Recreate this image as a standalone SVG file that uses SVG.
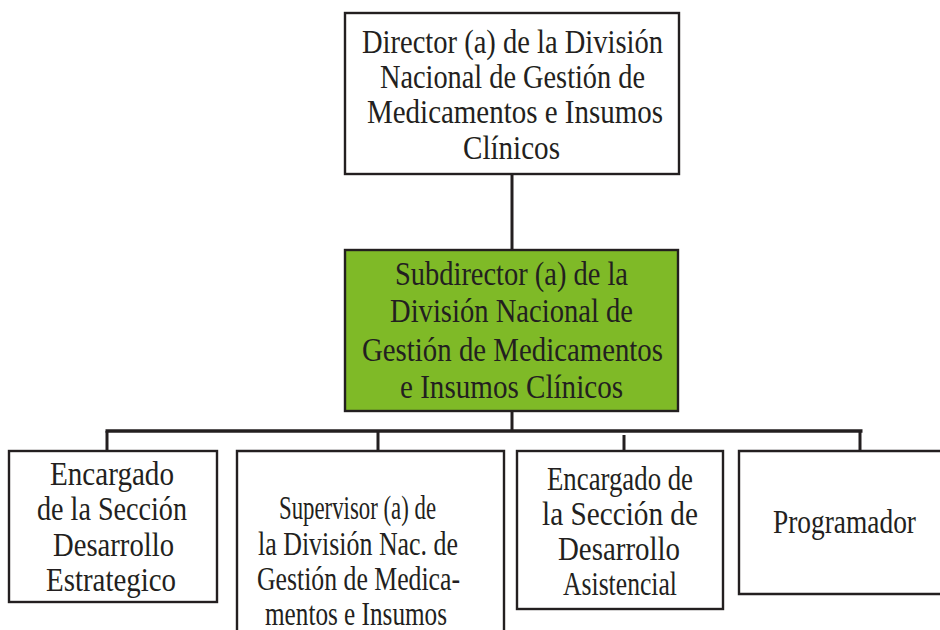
<svg xmlns="http://www.w3.org/2000/svg" width="940" height="630" viewBox="0 0 940 630">
<style>
.box{fill:#ffffff;stroke:#231f20;stroke-width:2.4}
.green{fill:#7fba27;stroke:#231f20;stroke-width:2.4}
.conn{stroke:#231f20;stroke-width:3;fill:none}
.bus{stroke:#231f20;stroke-width:3.6;fill:none}
text{font-family:"Liberation Serif","DejaVu Serif",serif;font-size:33px;fill:#231f20}
</style>
<rect width="940" height="630" fill="#ffffff"/>
<g id="connectors">
<line class="conn" x1="512" y1="174" x2="512" y2="250"/>
<line class="conn" x1="512" y1="411" x2="512" y2="431"/>
<line class="bus" x1="105.5" y1="431" x2="862.5" y2="431"/>
<line class="conn" x1="107" y1="431" x2="107" y2="451"/>
<line class="conn" x1="378" y1="431" x2="378" y2="451"/>
<line class="conn" x1="624" y1="435" x2="624" y2="455"/>
<line class="conn" x1="860" y1="431" x2="860" y2="451"/>
</g>
<g id="director">
<rect class="box" x="345" y="13" width="334" height="161"/>
<text x="362" y="53" textLength="301" lengthAdjust="spacingAndGlyphs">Director (a) de la  División</text>
<text x="380" y="88" textLength="265" lengthAdjust="spacingAndGlyphs">Nacional de Gestión de</text>
<text x="367" y="123" textLength="296" lengthAdjust="spacingAndGlyphs">Medicamentos e Insumos</text>
<text x="463" y="159" textLength="97" lengthAdjust="spacingAndGlyphs">Clínicos</text>
</g>
<g id="subdirector">
<rect class="green" x="345" y="250" width="333" height="161"/>
<text x="395" y="285" textLength="233" lengthAdjust="spacingAndGlyphs">Subdirector (a) de la</text>
<text x="390" y="322" textLength="243" lengthAdjust="spacingAndGlyphs">División Nacional de</text>
<text x="362" y="361" textLength="301" lengthAdjust="spacingAndGlyphs">Gestión de Medicamentos</text>
<text x="400" y="398" textLength="223" lengthAdjust="spacingAndGlyphs">e Insumos Clínicos</text>
</g>
<g id="estrategico">
<rect class="box" x="9" y="451" width="208" height="151"/>
<text x="50" y="485" textLength="124" lengthAdjust="spacingAndGlyphs">Encargado</text>
<text x="37" y="520" textLength="150" lengthAdjust="spacingAndGlyphs">de la Sección</text>
<text x="53" y="556" textLength="121" lengthAdjust="spacingAndGlyphs">Desarrollo</text>
<text x="46" y="591" textLength="130" lengthAdjust="spacingAndGlyphs">Estrategico</text>
</g>
<g id="supervisor">
<path class="box" d="M237,640 V451 H504 V640"/>
<text x="279" y="519" textLength="157" lengthAdjust="spacingAndGlyphs">Supervisor (a) de</text>
<text x="258" y="555" textLength="200" lengthAdjust="spacingAndGlyphs">la División Nac. de</text>
<text x="257" y="590" textLength="203" lengthAdjust="spacingAndGlyphs">Gestión de Medica-</text>
<text x="265" y="625" textLength="182" lengthAdjust="spacingAndGlyphs">mentos e Insumos</text>
</g>
<g id="asistencial">
<rect class="box" x="517" y="451" width="206" height="158"/>
<text x="547" y="490" textLength="146" lengthAdjust="spacingAndGlyphs">Encargado de</text>
<text x="542" y="525" textLength="156" lengthAdjust="spacingAndGlyphs">la Sección de</text>
<text x="558" y="560" textLength="122" lengthAdjust="spacingAndGlyphs">Desarrollo</text>
<text x="563" y="595" textLength="114" lengthAdjust="spacingAndGlyphs">Asistencial</text>
</g>
<g id="programador">
<path class="box" d="M950,451 H739 V594 H950"/>
<text x="773" y="533" textLength="143" lengthAdjust="spacingAndGlyphs">Programador</text>
</g>
</svg>
